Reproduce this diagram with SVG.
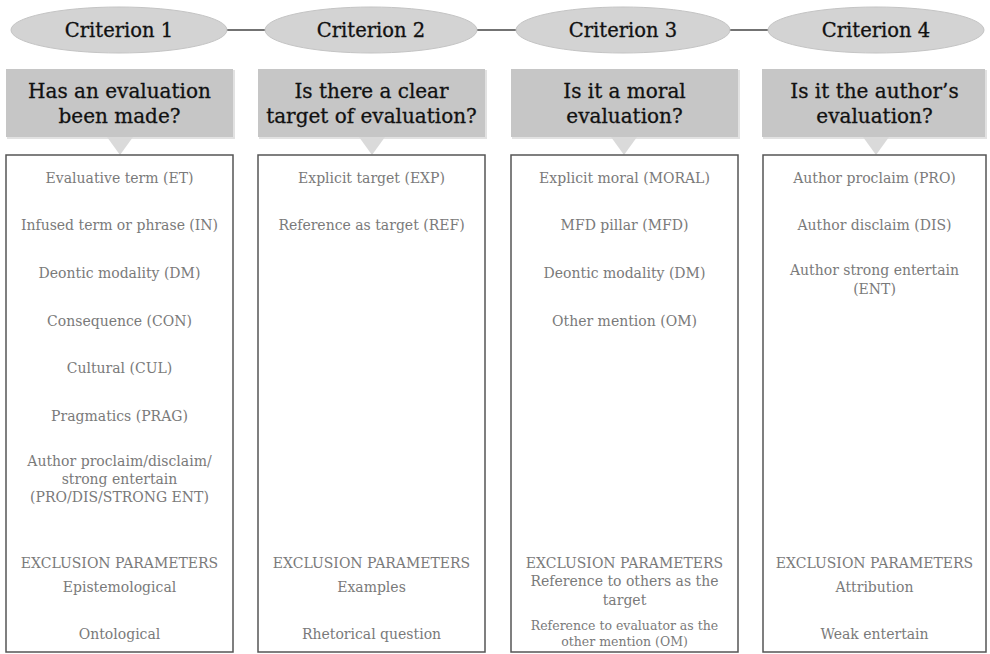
<svg xmlns="http://www.w3.org/2000/svg" width="990" height="654" viewBox="0 0 990 654">
<style>
.ell{fill:#d3d3d3;stroke:#c4c4c4;stroke-width:1}
.hdr{fill:#c6c6c6}
.shd{fill:#e2e2e2}
.tri{fill:#dadada}
.box{fill:#ffffff;stroke:#555;stroke-width:1.5}
.con{stroke:#444;stroke-width:1.5;fill:none}
.t1{font-family:"DejaVu Serif","Liberation Serif",serif;font-size:20px;fill:#111;stroke:#111;stroke-width:0.3;text-anchor:middle}
.t0{font-family:"DejaVu Serif","Liberation Serif",serif;font-size:19.5px;fill:#111;stroke:#111;stroke-width:0.3;text-anchor:middle}
.t2{font-family:"DejaVu Serif","Liberation Serif",serif;font-size:14px;fill:#7a7a7a;text-anchor:middle}
.t3{font-family:"DejaVu Serif","Liberation Serif",serif;font-size:12.5px;fill:#7a7a7a;text-anchor:middle}
</style>
<rect width="990" height="654" fill="#fff"/>
<g id="connectors">
<line class="con" x1="226" y1="30" x2="266" y2="30"/>
<line class="con" x1="477" y1="30" x2="517" y2="30"/>
<line class="con" x1="729" y1="30" x2="769" y2="30"/>
</g>
<g id="c1">
<ellipse class="ell" cx="119" cy="30" rx="108" ry="23"/>
<text class="t0" x="119" y="37">Criterion 1</text>
<rect class="shd" x="7" y="70" width="228" height="69"/>
<rect class="hdr" x="6" y="69" width="227" height="68"/>
<text class="t1" x="119.5" y="98">Has an evaluation</text>
<text class="t1" x="119.5" y="123">been made?</text>
<polygon class="tri" points="107,137 133,137 120,155"/>
<rect class="box" x="6" y="155" width="227" height="497"/>
<text class="t2" x="119.5" y="183">Evaluative term (ET)</text>
<text class="t2" x="119.5" y="230">Infused term or phrase (IN)</text>
<text class="t2" x="119.5" y="278">Deontic modality (DM)</text>
<text class="t2" x="119.5" y="326">Consequence (CON)</text>
<text class="t2" x="119.5" y="373">Cultural (CUL)</text>
<text class="t2" x="119.5" y="421">Pragmatics (PRAG)</text>
<text class="t2" x="119.5" y="466">Author proclaim/disclaim/</text>
<text class="t2" x="119.5" y="484">strong entertain</text>
<text class="t2" x="119.5" y="502">(PRO/DIS/STRONG ENT)</text>
<text class="t2" x="119.5" y="568">EXCLUSION PARAMETERS</text>
<text class="t2" x="119.5" y="592">Epistemological</text>
<text class="t2" x="119.5" y="639">Ontological</text>
</g>
<g id="c2">
<ellipse class="ell" cx="371" cy="30" rx="106" ry="23"/>
<text class="t0" x="371" y="37">Criterion 2</text>
<rect class="shd" x="259" y="70" width="228" height="69"/>
<rect class="hdr" x="258" y="69" width="227" height="68"/>
<text class="t1" x="371.5" y="98">Is there a clear</text>
<text class="t1" x="371.5" y="123">target of evaluation?</text>
<polygon class="tri" points="359,137 385,137 372,155"/>
<rect class="box" x="258" y="155" width="227" height="497"/>
<text class="t2" x="371.5" y="183">Explicit target (EXP)</text>
<text class="t2" x="371.5" y="230">Reference as target (REF)</text>
<text class="t2" x="371.5" y="568">EXCLUSION PARAMETERS</text>
<text class="t2" x="371.5" y="592">Examples</text>
<text class="t2" x="371.5" y="639">Rhetorical question</text>
</g>
<g id="c3">
<ellipse class="ell" cx="623" cy="30" rx="107" ry="23"/>
<text class="t0" x="623" y="37">Criterion 3</text>
<rect class="shd" x="512" y="70" width="228" height="69"/>
<rect class="hdr" x="511" y="69" width="227" height="68"/>
<text class="t1" x="624.5" y="98">Is it a moral</text>
<text class="t1" x="624.5" y="123">evaluation?</text>
<polygon class="tri" points="611,137 637,137 624,155"/>
<rect class="box" x="511" y="155" width="227" height="497"/>
<text class="t2" x="624.5" y="183">Explicit moral (MORAL)</text>
<text class="t2" x="624.5" y="230">MFD pillar (MFD)</text>
<text class="t2" x="624.5" y="278">Deontic modality (DM)</text>
<text class="t2" x="624.5" y="326">Other mention (OM)</text>
<text class="t2" x="624.5" y="568">EXCLUSION PARAMETERS</text>
<text class="t2" x="624.5" y="586">Reference to others as the</text>
<text class="t2" x="624.5" y="605">target</text>
<text class="t3" x="624.5" y="630">Reference to evaluator as the</text>
<text class="t3" x="624.5" y="646">other mention (OM)</text>
</g>
<g id="c4">
<ellipse class="ell" cx="876" cy="30" rx="108" ry="23"/>
<text class="t0" x="876" y="37">Criterion 4</text>
<rect class="shd" x="763" y="70" width="224" height="69"/>
<rect class="hdr" x="762" y="69" width="223" height="68"/>
<text class="t1" x="874.5" y="98">Is it the author’s</text>
<text class="t1" x="874.5" y="123">evaluation?</text>
<polygon class="tri" points="863,137 889,137 876,155"/>
<rect class="box" x="763" y="155" width="223" height="497"/>
<text class="t2" x="874.5" y="183">Author proclaim (PRO)</text>
<text class="t2" x="874.5" y="230">Author disclaim (DIS)</text>
<text class="t2" x="874.5" y="275">Author strong entertain</text>
<text class="t2" x="874.5" y="294">(ENT)</text>
<text class="t2" x="874.5" y="568">EXCLUSION PARAMETERS</text>
<text class="t2" x="874.5" y="592">Attribution</text>
<text class="t2" x="874.5" y="639">Weak entertain</text>
</g>
</svg>
